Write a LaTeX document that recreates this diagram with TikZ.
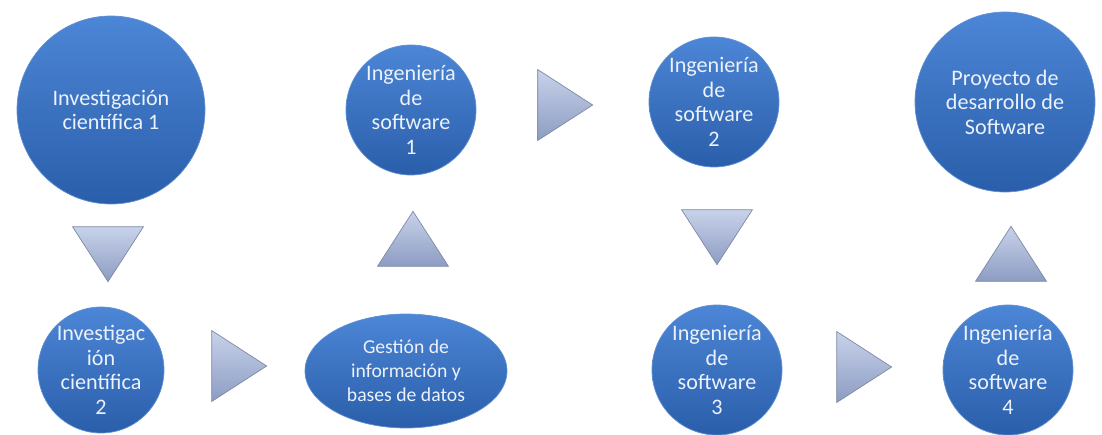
\documentclass[tikz,border=0pt]{standalone}
\usepackage{fontspec}
\setmainfont{Carlito}
\usepackage{tikz}
\usetikzlibrary{shapes.geometric}

\definecolor{bluetop}{RGB}{76,134,214}
\definecolor{bluebot}{RGB}{42,94,170}
\definecolor{blueline}{RGB}{96,144,212}
\definecolor{tritop}{RGB}{200,210,234}
\definecolor{tribot}{RGB}{140,156,194}
\definecolor{triline}{RGB}{126,138,164}
\definecolor{txt}{RGB}{236,241,250}

\begin{document}
\begin{tikzpicture}[
  bubble/.style={circle, draw=blueline, top color=bluetop, bottom color=bluebot, text=txt, align=center, inner sep=0pt, font=\fontsize{12.6}{14}\selectfont},
  oval/.style={ellipse, draw=blueline, top color=bluetop, bottom color=bluebot, text=txt, align=center, inner sep=0pt, font=\fontsize{11.2}{13.6}\selectfont},
  tri/.style={isosceles triangle, isosceles triangle stretches, draw=triline, top color=tritop, bottom color=tribot, inner sep=0pt, minimum width=1.42cm, minimum height=1.1cm}
]
\useasboundingbox (0,0) rectangle (22.04,8.68);

\node [bubble, minimum size=3.76cm] (inv1) at (2.22,6.48) {Investigación\\científica 1};
\node [bubble, minimum size=2.52cm] (inv2) at (2.02,1.28) {Investigac\\ión\\científica\\2};
\node [oval, minimum width=4.04cm, minimum height=2.28cm] (gestion) at (8.12,1.26) {Gestión de\\información y\\bases de datos};
\node [bubble, minimum size=2.6cm] (is1) at (8.22,6.48) {Ingeniería\\de\\software\\1};
\node [bubble, minimum size=2.6cm] (is2) at (14.28,6.64) {Ingeniería\\de\\software\\2};
\node [bubble, minimum size=2.6cm] (is3) at (14.34,1.28) {Ingeniería\\de\\software\\3};
\node [bubble, minimum size=2.6cm] (is4) at (20.16,1.28) {Ingeniería\\de\\software\\4};
\node [bubble, minimum size=3.6cm] (proyecto) at (20.10,6.64) {Proyecto de\\desarrollo de\\Software};

% flechas
\node [tri, shape border rotate=270] (t1) at (2.16,3.76) {};
\node [tri] (t2) at (4.62,1.36) {};
\node [tri, shape border rotate=90] (t3) at (8.26,3.74) {};
\node [tri] (t4) at (11.14,6.58) {};
\node [tri, shape border rotate=270] (t5) at (14.34,4.10) {};
\node [tri] (t6) at (17.12,1.34) {};
\node [tri, shape border rotate=90] (t7) at (20.22,3.44) {};

\end{tikzpicture}
\end{document}
